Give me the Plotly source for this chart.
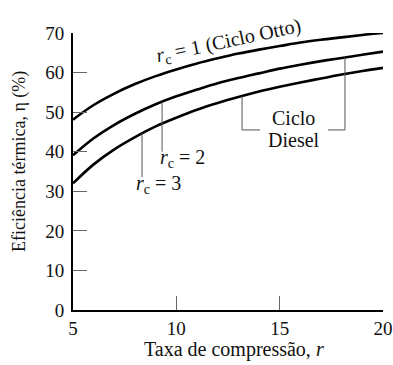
import numpy as np
import plotly.graph_objects as go

# Data
r_values = [5, 6, 7, 8, 9, 10, 11, 12, 13, 14, 15, 16, 17, 18, 19, 20]
eta_rc1 = [48.1, 51.8, 54.7, 57.1, 59.1, 60.8, 62.3, 63.6, 64.8, 65.8, 66.7, 67.6, 68.3, 68.9, 69.5, 70.0]
eta_rc2 = [39.1, 43.4, 46.8, 49.6, 52.0, 54.0, 55.7, 57.3, 58.6, 59.8, 61.0, 62.0, 62.9, 63.7, 64.5, 65.3]
eta_rc3 = [32.0, 36.8, 40.6, 43.7, 46.4, 48.6, 50.6, 52.3, 53.8, 55.2, 56.4, 57.5, 58.5, 59.5, 60.4, 61.2]
x_ticks = [5, 10, 15, 20]
y_ticks = [0, 10, 20, 30, 40, 50, 60, 70]

FONT = "Liberation Serif"
fig = go.Figure()
for ys in (eta_rc1, eta_rc2, eta_rc3):
    fig.add_trace(go.Scatter(x=r_values, y=ys, mode="lines",
                             line=dict(color="black", width=2.6, shape="spline"),
                             showlegend=False, hoverinfo="skip"))

def curve_at(ys, x):
    return float(np.interp(x, r_values, ys))

lead = dict(color="#555", width=1)
shapes = []
# r_c = 2 leader
x2 = 9.31
shapes.append(dict(type="line", x0=x2, x1=x2, y0=40.0, y1=curve_at(eta_rc2, x2), line=lead))
# r_c = 3 leader
x3 = 8.34
shapes.append(dict(type="line", x0=x3, x1=x3, y0=33.6, y1=curve_at(eta_rc3, x3), line=lead))
# Ciclo Diesel bracket
xl, xr, yb = 13.18, 18.16, 45.5
shapes.append(dict(type="line", x0=xl, x1=xl, y0=yb, y1=curve_at(eta_rc3, xl), line=lead))
shapes.append(dict(type="line", x0=xl, x1=14.05, y0=yb, y1=yb, line=lead))
shapes.append(dict(type="line", x0=xr, x1=xr, y0=yb, y1=curve_at(eta_rc2, xr), line=lead))
shapes.append(dict(type="line", x0=xr, x1=17.34, y0=yb, y1=yb, line=lead))

af = dict(family=FONT, size=20, color="#111")
annotations = [
    dict(x=12.55, y=67.8, text="<i>r</i><sub>c</sub> = 1 (Ciclo Otto)", textangle=-12,
         showarrow=False, font=af),
    dict(x=10.3, y=38.2, text="<i>r</i><sub>c</sub> = 2", showarrow=False, font=af),
    dict(x=9.15, y=31.8, text="<i>r</i><sub>c</sub> = 3", showarrow=False, font=af),
    dict(x=15.69, y=48.6, text="Ciclo", showarrow=False, font=af),
    dict(x=15.69, y=43.0, text="Diesel", showarrow=False, font=af),
    # axis titles
    dict(xref="paper", yref="paper", x=-0.171, y=0.538, textangle=-90,
         xanchor="center", yanchor="middle",
         text="Eficiência térmica, η (%)", showarrow=False,
         font=dict(family=FONT, size=18, color="#111")),
    dict(xref="paper", yref="paper", x=0.519, y=-0.144,
         xanchor="center", yanchor="middle",
         text="Taxa de compressão, <i>r</i>", showarrow=False,
         font=dict(family=FONT, size=20, color="#111")),
]

fig.update_layout(
    width=393, height=365,
    margin=dict(l=73, r=10, t=33, b=55),
    paper_bgcolor="white", plot_bgcolor="white",
    font=dict(family=FONT, size=19, color="#111"),
    shapes=shapes, annotations=annotations,
    xaxis=dict(range=[5, 20], tickvals=x_ticks, ticks="inside", ticklen=14,
               tickcolor="#666", tickwidth=1, showline=True, linecolor="black",
               linewidth=2, showgrid=False, zeroline=False, automargin=False,
               tickfont=dict(family=FONT, size=19)),
    yaxis=dict(range=[0, 70], tickvals=y_ticks, ticks="inside", ticklen=14,
               tickcolor="#666", tickwidth=1, showline=True, linecolor="black",
               linewidth=2, showgrid=False, zeroline=False, automargin=False,
               ticklabelstandoff=3,
               tickfont=dict(family=FONT, size=19)),
)

fig.write_html("out.html")
